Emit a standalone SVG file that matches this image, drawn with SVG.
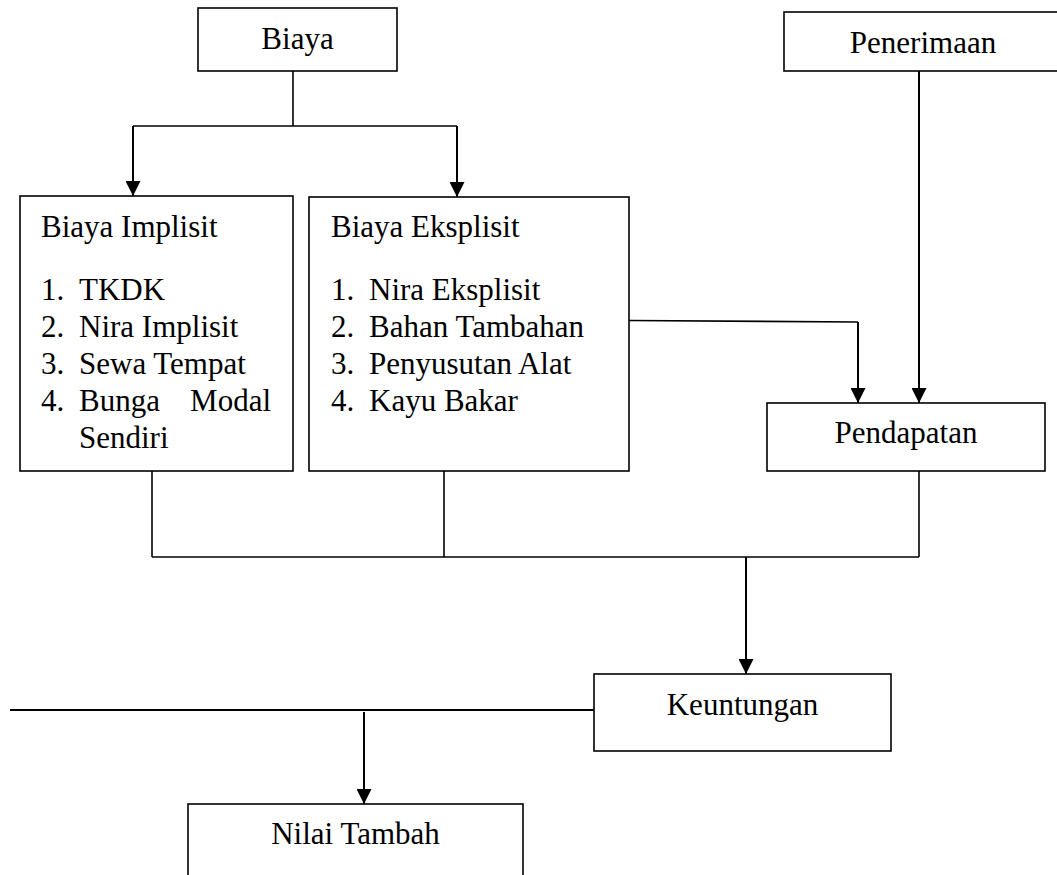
<svg xmlns="http://www.w3.org/2000/svg" width="1057" height="875" viewBox="0 0 1057 875">
<style>
  .box { fill: #ffffff; stroke: #000000; stroke-width: 1.6; }
  .t { font-family: "Liberation Serif", "Times New Roman", serif; font-size: 31px; fill: #000000; }
  .c { text-anchor: middle; }
  .e { text-anchor: end; }
  .ln { fill: none; stroke: #000000; stroke-width: 1.6; }
  .ar { fill: none; stroke: #000000; stroke-width: 2; marker-end: url(#ah); }
</style>
<defs>
  <marker id="ah" viewBox="0 0 10 10" refX="10" refY="5" markerWidth="15" markerHeight="15" markerUnits="userSpaceOnUse" orient="auto">
    <path d="M0,0 L10,5 L0,10 Z" fill="#000000"/>
  </marker>
</defs>
<rect width="1057" height="875" fill="#ffffff"/>

<g id="connectors">
  <!-- Biaya to Implisit / Eksplisit -->
  <path class="ln" d="M293,71 V126"/>
  <path class="ln" d="M133,126 H457"/>
  <path class="ar" d="M133,126 V196"/>
  <path class="ar" d="M457,126 V197"/>
  <!-- Eksplisit to Pendapatan -->
  <path class="ln" d="M629,320.5 L858,322"/>
  <path class="ar" d="M858,322 V403"/>
  <!-- Penerimaan to Pendapatan -->
  <path class="ar" d="M919,71 V403"/>
  <!-- bottom collector -->
  <path class="ln" d="M152,471 V557"/>
  <path class="ln" d="M444,471 V557"/>
  <path class="ln" d="M919,471 V557"/>
  <path class="ln" d="M152,557 H919"/>
  <path class="ar" d="M746,557 V674"/>
  <!-- line left of Keuntungan -->
  <path class="ln" style="stroke-width:2.2" d="M10,710 H594"/>
  <path class="ar" d="M364,712 V804"/>
</g>

<g id="biaya">
  <rect class="box" x="198" y="8" width="199" height="63"/>
  <text class="t c" x="297.5" y="49">Biaya</text>
</g>

<g id="penerimaan">
  <rect class="box" x="784" y="12" width="280" height="59"/>
  <text class="t c" x="923" y="53">Penerimaan</text>
</g>

<g id="biaya-implisit">
  <rect class="box" x="20" y="196" width="273" height="275"/>
  <text class="t" x="41" y="237">Biaya Implisit</text>
  <text class="t" x="41" y="300">1.</text><text class="t" x="79" y="300">TKDK</text>
  <text class="t" x="41" y="337">2.</text><text class="t" x="79" y="337">Nira Implisit</text>
  <text class="t" x="41" y="374">3.</text><text class="t" x="79" y="374">Sewa Tempat</text>
  <text class="t" x="41" y="411">4.</text><text class="t" x="79" y="411">Bunga</text><text class="t e" x="271" y="411">Modal</text>
  <text class="t" x="79" y="448">Sendiri</text>
</g>

<g id="biaya-eksplisit">
  <rect class="box" x="309" y="197" width="320" height="274"/>
  <text class="t" x="331" y="237">Biaya Eksplisit</text>
  <text class="t" x="331" y="300">1.</text><text class="t" x="369" y="300">Nira Eksplisit</text>
  <text class="t" x="331" y="337">2.</text><text class="t" x="369" y="337">Bahan Tambahan</text>
  <text class="t" x="331" y="374">3.</text><text class="t" x="369" y="374">Penyusutan Alat</text>
  <text class="t" x="331" y="411">4.</text><text class="t" x="369" y="411">Kayu Bakar</text>
</g>

<g id="pendapatan">
  <rect class="box" x="767" y="403" width="278" height="68"/>
  <text class="t c" x="906" y="443">Pendapatan</text>
</g>

<g id="keuntungan">
  <rect class="box" x="594" y="674" width="297" height="77"/>
  <text class="t c" x="742.5" y="715">Keuntungan</text>
</g>

<g id="nilai-tambah">
  <rect class="box" x="188" y="804" width="335" height="90"/>
  <text class="t c" x="355.5" y="844">Nilai Tambah</text>
</g>
</svg>
